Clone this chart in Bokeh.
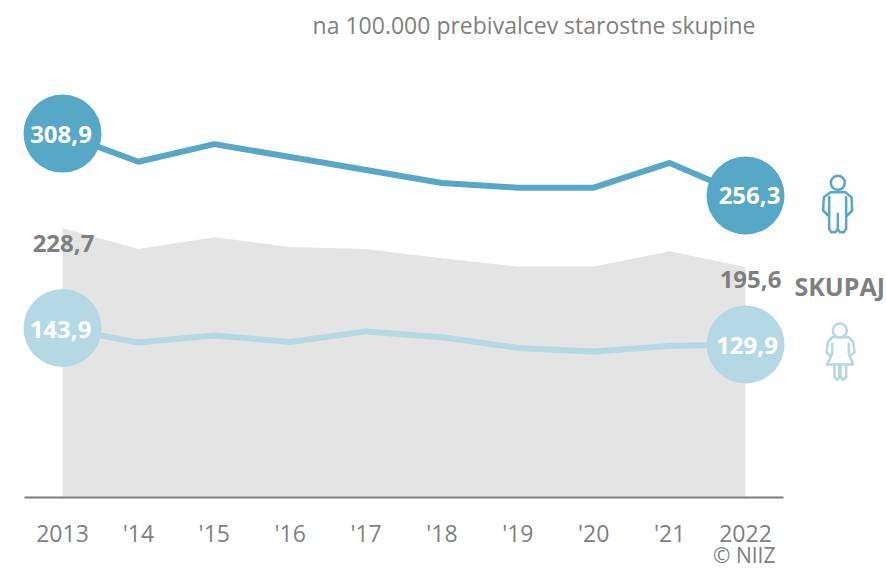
from bokeh.plotting import figure
from bokeh.models import LinearAxis, FixedTicker, ColumnDataSource, Title, Range1d
from bokeh.core.properties import value
from bokeh.embed import file_html
from bokeh.resources import INLINE

years = [2013, 2014, 2015, 2016, 2017, 2018, 2019, 2020, 2021, 2022]
tick_labels = ["2013", "'14", "'15", "'16", "'17", "'18", "'19", "'20", "'21", "2022"]
men = [308.9, 285, 300, 289, 278, 267, 263, 263, 284, 256.3]
women = [143.9, 131.5, 137.5, 132, 141, 136, 127, 124, 128.6, 129.9]
total = [228.7, 211, 221, 212.6, 211, 203, 196, 196, 209, 195.6]
title_text = "na 100.000 prebivalcev starostne skupine"

FONT = "Open Sans"
MEN_C = "#57A7C6"
WOMEN_C = "#B5D8E5"
AREA_C = "#E4E4E4"
GREY = "#7F7F80"

W, H = 886, 569
TOP = 40
px_year = 75.89
px_val = 1.178
# page pixel -> data helpers
def X(px):
    return 2013 + (px - 62) / px_year
def Y(py):
    return (497 - py) / px_val

p = figure(width=W, height=H, frame_width=W, frame_height=H - TOP,
           output_backend="svg", toolbar_location=None,
           x_axis_location=None, y_axis_location=None,
           x_range=Range1d(X(0), X(W)), y_range=Range1d(Y(H), Y(TOP)),
           min_border=0, min_border_top=TOP, outline_line_color=None,
           background_fill_color="white", border_fill_color="white")
p.grid.visible = False

t = Title(text=title_text, align="right", text_font=FONT, text_font_size="23px",
          text_font_style="normal", text_color=GREY, offset=131, standoff=0)
p.add_layout(t, "above")

src = ColumnDataSource(dict(x=years, men=men, women=women, total=total))
p.varea(x="x", y1=0, y2="total", source=src, fill_color=AREA_C)

axis = LinearAxis(ticker=FixedTicker(ticks=years),
                  major_label_overrides={y: s for y, s in zip(years, tick_labels)},
                  fixed_location=0, bounds=(X(24), X(783)),
                  axis_line_color=GREY, axis_line_width=2,
                  major_tick_line_color=None, minor_tick_line_color=None,
                  major_label_text_font=FONT, major_label_text_font_size="23px",
                  major_label_text_color=GREY, major_label_standoff=13)
p.add_layout(axis, "below")

p.line("x", "women", source=src, line_color=WOMEN_C, line_width=6)
p.line("x", "men", source=src, line_color=MEN_C, line_width=6)

ends = [0, -1]
p.scatter([years[i] for i in ends], [men[i] for i in ends], size=78, fill_color=MEN_C, line_color=None)
p.scatter([years[i] for i in ends], [women[i] for i in ends], size=78, fill_color=WOMEN_C, line_color=None)

def fmt(v):
    return f"{v:.1f}".replace(".", ",")

for series, dx, dy in ((men, [-1.5, 4], [1, 0]), (women, [-2, 1.5], [2, 1])):
    p.text([years[i] for i in ends], [series[i] for i in ends], text=[fmt(series[i]) for i in ends],
           x_offset=dx, y_offset=dy,
           text_color="white", text_font=value(FONT), text_font_size="24px", text_font_style="bold",
           text_align="center", text_baseline="middle")
p.text([years[0], years[-1]], [total[0], total[-1]], text=[fmt(total[0]), fmt(total[-1])],
       x_offset=[1, 5], y_offset=[15, 12], text_color=GREY, text_font=value(FONT),
       text_font_size="24px", text_font_style="bold", text_align="center", text_baseline="middle")
p.text([X(794)], [Y(285)], text=["SKUPAJ"], text_color=GREY, text_font=value(FONT),
       text_font_size="25px", text_font_style="bold", text_align="left", text_baseline="middle")
p.text([X(775)], [Y(554)], text=["© NIIZ"], text_color=GREY, text_font=value(FONT),
       text_font_size="21px", text_align="right", text_baseline="middle")

# icons: outlines traced in page pixels relative to zoom crop origin
def zx(a): return X(780 + a / 3)
def zy(b): return Y(160 + b / 3)
def outline(points, color):
    p.line([zx(a) for a, b in points], [zy(b) for a, b in points], line_color=color, line_width=2.5, line_join="round", line_cap="round")

man_paths = [
    [(143,165),(128,150),(130,110),(150,95),(195,95),(213,110),(215,150),(200,165)],
    [(146,110),(146,205),(152,215),(165,215),(172,205),(172,160),(172,205),(178,215),(190,215),(197,205),(197,110)],
]
woman_paths = [
    [(148,585),(138,575),(142,545),(155,530),(205,530),(218,545),(222,575),(210,585)],
    [(155,550),(155,580),(140,612),(218,612),(205,580),(205,550)],
    [(162,612),(162,650),(170,658),(176,650),(176,612)],
    [(180,612),(180,650),(188,658),(197,650),(197,612)],
]
for path in man_paths:
    outline(path, MEN_C)
for path in woman_paths:
    outline(path, WOMEN_C)
p.scatter([zx(172)], [zy(67)], size=14, fill_color=None, line_color=MEN_C, line_width=2.5)
p.scatter([zx(178)], [zy(510)], size=14, fill_color=None, line_color=WOMEN_C, line_width=2.5)

open("out.html", "w").write(file_html(p, INLINE))
